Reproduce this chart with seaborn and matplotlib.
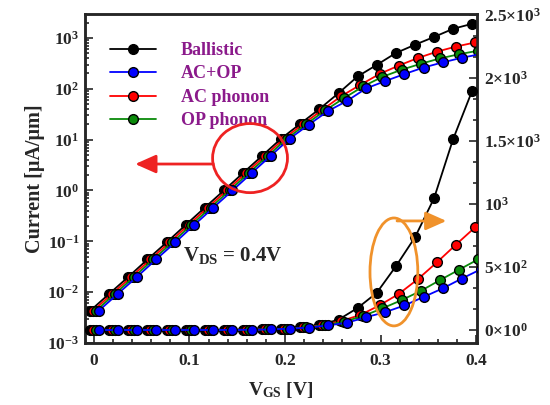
import math
import matplotlib
matplotlib.use("Agg")
import matplotlib.pyplot as plt
import seaborn as sns
import pandas as pd
from matplotlib.patches import Ellipse
from matplotlib.ticker import FixedLocator, FuncFormatter, MultipleLocator, LogLocator, NullFormatter

# VGS grid (V) and per-series horizontal shift as it appears in the figure
vgs = [0.00, 0.02, 0.04, 0.06, 0.08, 0.10, 0.12, 0.14, 0.16, 0.18, 0.20,
       0.22, 0.24, 0.26, 0.28, 0.30, 0.32, 0.34, 0.36, 0.38, 0.40]
shift = {"Ballistic": -0.004, "AC phonon": -0.001, "OP phonon": 0.002, "AC+OP": 0.005}

# current in uA/um
sub = [0.0043, 0.0093, 0.020, 0.044, 0.095, 0.21, 0.46, 1.0, 2.2, 4.8, 10.5]
ballistic = sub + [20.5, 40, 82, 175, 295, 505, 735, 1045, 1515, 1900]
ac_phonon = sub + [20.3, 38.5, 72, 120, 196, 286, 403, 537, 678, 815]
op_phonon = sub + [20.1, 37.5, 66, 112, 172, 237, 310, 395, 478, 560]
ac_op = sub + [19.8, 36.5, 58, 102, 142, 195, 262, 330, 408, 482]

series = {"Ballistic": ballistic, "AC+OP": ac_op, "AC phonon": ac_phonon, "OP phonon": op_phonon}
colors = {"Ballistic": "black", "AC+OP": "#0000ff", "AC phonon": "#ff0000", "OP phonon": "#0a8a0a"}
draw_order = ["Ballistic", "AC phonon", "OP phonon", "AC+OP"]
legend_order = ["Ballistic", "AC+OP", "AC phonon", "OP phonon"]

rows = []
for name, vals in series.items():
    for v, i in zip(vgs, vals):
        rows.append({"model": name, "VGS": v + shift[name], "I": i})
df = pd.DataFrame(rows)

sns.set_style("ticks")
plt.rcParams["font.family"] = ["Liberation Serif", "DejaVu Serif"]
plt.rcParams["font.weight"] = "bold"
plt.rcParams["mathtext.fontset"] = "custom"
plt.rcParams["mathtext.rm"] = "Liberation Serif:bold"
plt.rcParams["mathtext.bf"] = "Liberation Serif:bold"
plt.rcParams["mathtext.it"] = "Liberation Serif:bold"
plt.rcParams["mathtext.default"] = "rm"

fig = plt.figure(figsize=(5.5, 4.05), dpi=100)
ax = fig.add_axes([85 / 550, 1 - 343 / 405, 392 / 550, 329 / 405])
ax2 = ax.twinx()

handles = {}
for k, name in enumerate(draw_order):
    d = df[df["model"] == name]
    for a in (ax, ax2):
        sns.lineplot(data=d, x="VGS", y="I", ax=a, color=colors[name], lw=1.3,
                     marker="o", markersize=7, markeredgecolor="black",
                     markeredgewidth=1.0, zorder=3 + k, label=name, legend=False)
    handles[name] = ax2.lines[-1]

ax.set_yscale("log")
ax.set_xlim(-0.0094, 0.401)
ax.set_ylim(1e-3, 2960)
ax2.set_ylim(-103, 2508)

ax.xaxis.set_major_locator(MultipleLocator(0.1))
ax.xaxis.set_minor_locator(MultipleLocator(0.02))
ax.xaxis.set_major_formatter(FuncFormatter(lambda v, p: "0" if abs(v) < 1e-9 else "%.1f" % v))
ax.yaxis.set_major_locator(LogLocator(base=10, numticks=20))
ax.yaxis.set_minor_locator(LogLocator(base=10, subs=range(2, 10), numticks=20))
ax.yaxis.set_minor_formatter(NullFormatter())
ax.yaxis.set_major_formatter(FuncFormatter(lambda v, p: r"$10^{%d}$" % round(math.log10(v))))

right_ticks = [0, 500, 1000, 1500, 2000, 2500]
right_labels = [r"$0{\times}10^{0}$", r"$5{\times}10^{2}$", r"$10^{3}$",
                r"$1.5{\times}10^{3}$", r"$2{\times}10^{3}$", r"$2.5{\times}10^{3}$"]
ax2.yaxis.set_major_locator(FixedLocator(right_ticks))
ax2.set_yticklabels(right_labels)
ax2.yaxis.set_minor_locator(MultipleLocator(500 / 3))

for a in (ax, ax2):
    a.tick_params(which="both", direction="in", width=1.2, labelsize=12.5)
    a.tick_params(which="major", length=6)
    a.tick_params(which="minor", length=3)
    for s in a.spines.values():
        s.set_linewidth(1.8)
ax.tick_params(axis="x", pad=7)
ax.tick_params(axis="y", pad=4)
ax2.tick_params(axis="y", pad=5)

ax.set_xlabel(r"$V_{GS}$ [V]", fontsize=14, fontweight="bold", labelpad=8)
ax.set_ylabel("Current [μA/μm]", fontsize=14.5, fontweight="bold", labelpad=2)
ax2.set_ylabel("")

leg = ax2.legend([handles[n] for n in legend_order], legend_order, loc="upper left",
                 bbox_to_anchor=(0.065, 0.915), frameon=False, fontsize=13,
                 handlelength=2.5, handletextpad=1.4, labelspacing=0.36,
                 borderpad=0, borderaxespad=0)
for t in leg.get_texts():
    t.set_color("#8b1a8b")
    t.set_fontweight("bold")

# annotations
arrow_style = "-|>,head_length=0.9,head_width=0.4"
ax2.add_patch(Ellipse((0.421, 0.562), 0.191, 0.21, transform=ax2.transAxes,
                      fill=False, ec="#ee2222", lw=2, zorder=10))
ax2.annotate("", xy=(0.128, 0.544), xytext=(0.327, 0.544), xycoords="axes fraction",
             arrowprops=dict(arrowstyle=arrow_style, mutation_scale=14,
                             color="#ee2222", lw=2, shrinkA=0, shrinkB=0), zorder=10)
ax2.add_patch(Ellipse((0.788, 0.216), 0.122, 0.328, transform=ax2.transAxes,
                      fill=False, ec="#f0922b", lw=2, zorder=10))
ax2.annotate("", xy=(0.922, 0.371), xytext=(0.796, 0.371), xycoords="axes fraction",
             arrowprops=dict(arrowstyle=arrow_style, mutation_scale=14,
                             color="#f0922b", lw=2, shrinkA=0, shrinkB=0), zorder=10)
ax2.text(0.25, 0.267, r"$V_{DS}$ = 0.4V", transform=ax2.transAxes, fontsize=15,
         fontweight="bold", va="center", ha="left")

fig.savefig("out.png", dpi=100)
